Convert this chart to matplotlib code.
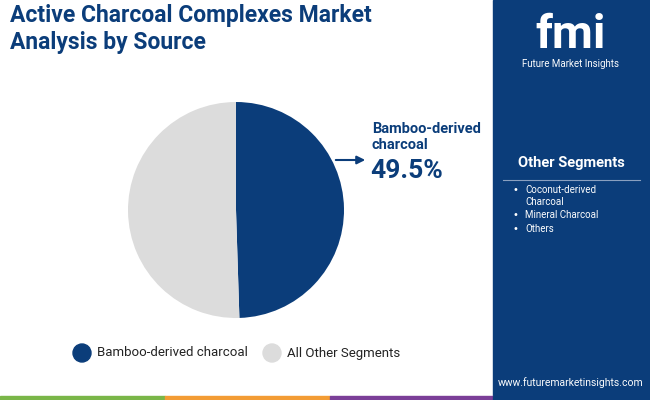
import matplotlib
matplotlib.use("Agg")
import matplotlib.pyplot as plt
from matplotlib.patches import Rectangle

labels = ["Bamboo-derived charcoal", "All Other Segments"]
values = [49.5, 50.5]
colors = ["#0b3d7a", "#dcdcdc"]
others = ["Coconut-derived\nCharcoal", "Mineral Charcoal", "Others"]

W, H = 650, 400
fig = plt.figure(figsize=(6.5, 4.0), dpi=100)
fig.patch.set_facecolor("white")

def fx(x): return x / W
def fy(y): return 1 - y / H

fig.patches.append(Rectangle((fx(493), 0), 1 - fx(493), 1, transform=fig.transFigure, color="#0b3d7a", zorder=0))
for x0, x1, c in [(0, 165, "#7ab648"), (165, 330, "#f39c34"), (330, 493, "#7b3f98"), (493, 650, "#0b3d7a")]:
    fig.patches.append(Rectangle((fx(x0), 0), fx(x1 - x0), 4 / H, transform=fig.transFigure, color=c, zorder=2))

fig.text(fx(10), fy(4), "Active Charcoal Complexes Market\nAnalysis by Source", fontsize=16.5, fontweight="bold",
         color="#0b3d7a", va="top", ha="left", family="Roboto", linespacing=1.25)

fig.text(fx(571), fy(35), "fmi", fontsize=34, fontweight="bold", color="white", ha="center", va="center", family="Roboto")
fig.text(fx(571), fy(64), "Future Market Insights", fontsize=7, color="white", ha="center", va="center", family="Roboto")

ax = fig.add_axes([fx(236 - 108), fy(210 + 108), 216 / W, 216 / H])
ax.pie(values, colors=colors, startangle=90, counterclock=False, radius=1.0)
ax.set_xlim(-1, 1)
ax.set_ylim(-1, 1)
ax.set_aspect("equal")

fig.text(fx(372), fy(137), "Bamboo-derived\ncharcoal", fontsize=10.5, fontweight="bold", color="#0b3d7a",
         ha="left", va="center", family="Roboto", linespacing=1.2)
fig.text(fx(370), fy(171), "49.5%", fontsize=19, fontweight="bold", color="#0b3d7a", ha="left", va="center", family="Roboto")
fig.add_artist(matplotlib.patches.FancyArrowPatch((fx(333), fy(160)), (fx(368), fy(160)), transform=fig.transFigure,
               arrowstyle="-|>", mutation_scale=12, color="#0b3d7a", lw=1.5))

for cx, lab, c in [(82, labels[0], colors[0]), (272, labels[1], colors[1])]:
    fig.patches.append(matplotlib.patches.Ellipse((fx(cx), fy(353)), 18 / W, 18 / H, transform=fig.transFigure, color=c))
    fig.text(fx(cx + 15), fy(353), lab, fontsize=9.5, color="#222222", ha="left", va="center", family="Roboto")

fig.text(fx(571), fy(163), "Other Segments", fontsize=10.5, fontweight="bold", color="white", ha="center", va="center", family="Roboto")
fig.add_artist(plt.Line2D([fx(503), fx(640)], [fy(180), fy(180)], transform=fig.transFigure, color="#8aa0c0", lw=0.8))
ys = [196, 215, 229]
for y, t in zip(ys, others):
    fig.text(fx(513), fy(y - 6 if "\n" in t else y), "•", fontsize=7, color="white", ha="left", va="center")
    fig.text(fx(525), fy(y), t, fontsize=7, color="white", ha="left", va="center", family="Roboto", linespacing=1.2)

fig.text(fx(571), fy(383), "www.futuremarketinsights.com", fontsize=7.5, color="white", ha="center", va="center", family="Roboto")

fig.savefig("out.png", dpi=100)
